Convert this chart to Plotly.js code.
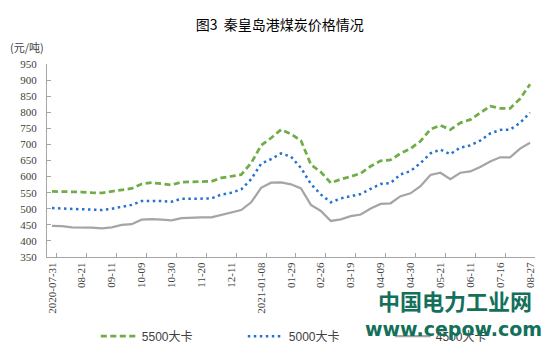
<!DOCTYPE html>
<html>
<head>
<meta charset="utf-8">
<script src="https://cdn.plot.ly/plotly-3.0.1.min.js"></script>
<style>html,body{margin:0;padding:0;background:#fff;}#chart{width:554px;height:362px;}</style>
</head>
<body>
<div id="chart"></div>
<script>
// Tick labels (every 3rd weekly observation)
const tickLabels = ['2020-07-31','08-21','09-11','10-09','10-30','11-20','12-11','2021-01-08','01-29','02-26','03-19','04-09','04-30','05-21','06-11','07-16','08-27'];

// Series values (元/吨)
const kcal5500 = [554,554,553,552,550,549,554,558,563,577,
                  581,578,574,583,584,584,585,596,600,606,
                  642,697,720,746,732,712,637,614,580,592,
                  600,610,632,649,652,672,687,710,747,759,
                  746,767,777,797,819,812,812,842,887];
const kcal5000 = [502,501,499,498,497,496,500,505,512,524,
                  525,524,522,531,531,531,532,544,550,560,
                  592,640,654,672,662,627,577,544,520,532,
                  538,546,562,577,580,607,617,642,672,684,
                  670,690,697,712,734,745,746,767,799];
const kcal4500 = [447,446,442,442,441,439,442,450,452,466,
                  468,466,464,471,473,473,473,481,488,496,
                  520,565,581,582,576,563,512,493,462,467,
                  477,482,501,515,517,539,548,570,605,612,
                  592,612,616,630,647,660,660,687,705];

const seriesNames = ['5500大卡','5000大卡','4500大卡'];

const idx = kcal5500.map((_, i) => i);
const step = 3;
const labelPos = tickLabels.map((_, k) => k * step);
const tickPos = tickLabels.map((_, k) => k * step + 0.5);
const xr = [-0.5, idx.length - 0.5];

const serif = 'Liberation Serif, Times New Roman, Noto Sans CJK SC, serif';
const cjk = 'Noto Sans CJK SC, sans-serif';
const axisGray = '#a6a6a6';

const traces = [
  {x: idx, y: kcal5500, name: seriesNames[0], type: 'scatter', mode: 'lines',
   line: {color: '#70AD47', width: 2.75, dash: '6px,3.5px'}},
  {x: idx, y: kcal5000, name: seriesNames[1], type: 'scatter', mode: 'lines',
   line: {color: '#2672D0', width: 2.5, dash: '2.5px,3.5px'}},
  {x: idx, y: kcal4500, name: seriesNames[2], type: 'scatter', mode: 'lines',
   line: {color: '#A5A5A5', width: 2.25}},
  // invisible helper trace to carry the tick-mark axis
  {x: [xr[0]], y: [350], xaxis: 'x2', showlegend: false, hoverinfo: 'skip',
   mode: 'markers', marker: {opacity: 0}}
];

const layout = {
  width: 554, height: 362,
  margin: {l: 47, r: 19, t: 64, b: 98},
  paper_bgcolor: '#fff', plot_bgcolor: '#fff',
  showlegend: true,
  title: {text: '图3  秦皇岛港煤炭价格情况', font: {family: cjk, size: 14, color: '#000'},
          x: 0.505, xanchor: 'center', y: 0.93, yanchor: 'middle'},
  xaxis: {range: xr, tickmode: 'array', tickvals: labelPos, ticktext: tickLabels,
          tickangle: -90, ticks: '', showline: true, linecolor: axisGray, linewidth: 1,
          showgrid: false, zeroline: false,
          tickfont: {family: serif, size: 11, color: '#404040'}},
  xaxis2: {range: xr, overlaying: 'x', anchor: 'y', side: 'bottom', tickmode: 'array',
           tickvals: tickPos, ticks: 'inside', ticklen: 4, tickcolor: axisGray,
           showticklabels: false, showline: false, showgrid: false, zeroline: false},
  yaxis: {range: [350, 950], dtick: 50, ticks: 'inside', ticklen: 4, tickcolor: axisGray,
          showline: true, linecolor: axisGray, linewidth: 1, showgrid: false, zeroline: false,
          ticklabelstandoff: 7,
          tickfont: {family: serif, size: 11, color: '#404040'}},
  legend: {orientation: 'h', x: 0.1, xanchor: 'left', y: -0.41, yanchor: 'middle',
           entrywidth: 96, entrywidthmode: 'pixels', itemwidth: 36,
           font: {family: 'Liberation Sans, Noto Sans CJK SC, sans-serif', size: 12, color: '#404040'},
           bgcolor: 'rgba(0,0,0,0)'},
  annotations: [
    {text: '(元/吨)', xref: 'paper', yref: 'paper', x: -0.08, xanchor: 'left',
     y: 1.09, yanchor: 'middle', showarrow: false,
     font: {family: cjk, size: 11, color: '#404040'}},
    {text: '<b>中国电力工业网</b>', xref: 'paper', yref: 'paper', x: 0.836, xanchor: 'center',
     y: -0.225, yanchor: 'middle', showarrow: false,
     font: {family: cjk, size: 22, color: '#13705A'}},
    {text: '<b>www.cepow.com</b>', xref: 'paper', yref: 'paper', x: 0.832, xanchor: 'center',
     y: -0.375, yanchor: 'middle', showarrow: false,
     font: {family: 'DejaVu Sans, sans-serif', size: 19, color: '#13705A'}}
  ]
};

Plotly.newPlot('chart', traces, layout, {staticPlot: true, displayModeBar: false});
</script>
</body>
</html>
